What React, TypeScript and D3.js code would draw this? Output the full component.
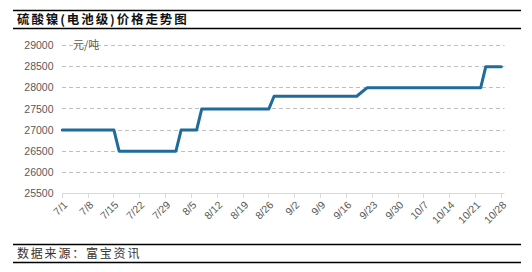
import React from "react";
import * as d3 from "d3";

const TITLE = "硫酸镍(电池级)价格走势图";
const UNIT = "元/吨";
const SOURCE = "数据来源：富宝资讯";

const dates: string[] = [
  "7/1", "7/2", "7/3", "7/4", "7/5",
  "7/8", "7/9", "7/10", "7/11", "7/12",
  "7/15", "7/16", "7/17", "7/18", "7/19",
  "7/22", "7/23", "7/24", "7/25", "7/26",
  "7/29", "7/30", "7/31", "8/1", "8/2",
  "8/5", "8/6", "8/7", "8/8", "8/9",
  "8/12", "8/13", "8/14", "8/15", "8/16",
  "8/19", "8/20", "8/21", "8/22", "8/23",
  "8/26", "8/27", "8/28", "8/29", "8/30",
  "9/2", "9/3", "9/4", "9/5", "9/6",
  "9/9", "9/10", "9/11", "9/12", "9/13",
  "9/16", "9/17", "9/18", "9/19", "9/20",
  "9/23", "9/24", "9/25", "9/26", "9/27",
  "9/30", "10/1", "10/2", "10/3", "10/4",
  "10/7", "10/8", "10/9", "10/10", "10/11",
  "10/14", "10/15", "10/16", "10/17", "10/18",
  "10/21", "10/22", "10/23", "10/24", "10/25",
  "10/28",
];

const prices: number[] = [
  27000, 27000, 27000, 27000, 27000,
  27000, 27000, 27000, 27000, 27000,
  27000, 26500, 26500, 26500, 26500,
  26500, 26500, 26500, 26500, 26500,
  26500, 26500, 26500, 27000, 27000,
  27000, 27000, 27500, 27500, 27500,
  27500, 27500, 27500, 27500, 27500,
  27500, 27500, 27500, 27500, 27500,
  27500, 27800, 27800, 27800, 27800,
  27800, 27800, 27800, 27800, 27800,
  27800, 27800, 27800, 27800, 27800,
  27800, 27800, 27800, 27900, 28000,
  28000, 28000, 28000, 28000, 28000,
  28000, 28000, 28000, 28000, 28000,
  28000, 28000, 28000, 28000, 28000,
  28000, 28000, 28000, 28000, 28000,
  28000, 28000, 28500, 28500, 28500,
  28500,
];

const tickLabels: string[] = [
  "7/1", "7/8", "7/15", "7/22", "7/29", "8/5", "8/12", "8/19", "8/26",
  "9/2", "9/9", "9/16", "9/23", "9/30", "10/7", "10/14", "10/21", "10/28",
];

const yTicks: number[] = [25500, 26000, 26500, 27000, 27500, 28000, 28500, 29000];

const W = 532;
const H = 272;
const textColor = "#595959";
const lineColor = "#1F6C9C";

export default function App() {
  const x = d3.scalePoint<string>().domain(dates).range([62.3, 501.3]);
  const y = d3.scaleLinear().domain([25500, 29000]).range([193.5, 45.5]);
  const line = d3
    .line<number>()
    .x((_, i) => x(dates[i]) as number)
    .y((d) => y(d));
  const crisp = (v: number) => Math.round(v - 0.5) + 0.5;
  const gridRight = 504.5;

  return (
    <svg
      width={W}
      height={H}
      style={{ position: "absolute", left: 0, top: 0, background: "#fff" }}
      fontFamily="'Liberation Sans', Arial, sans-serif"
    >
      <rect x={0} y={0} width={W} height={H} fill="#fff" />
      {/* header */}
      <line x1={13} x2={521} y1={10.5} y2={10.5} stroke="#000" strokeWidth={1.3} />
      <text
        x={17}
        y={24}
        fontSize={12.5}
        fontWeight="bold"
        letterSpacing={1.9}
        fill="#111"
        fontFamily="'Noto Sans CJK SC', sans-serif"
      >
        {TITLE}
      </text>
      <line x1={13} x2={521} y1={28.5} y2={28.5} stroke="#000" strokeWidth={1.3} />

      {/* grid */}
      {yTicks
        .filter((t) => t !== 25500)
        .map((t) => (
          <line
            key={"g" + t}
            x1={62}
            x2={gridRight}
            y1={crisp(y(t))}
            y2={crisp(y(t))}
            stroke="#BFBFBF"
            strokeWidth={1}
            strokeDasharray="4,3"
          />
        ))}
      {yTicks.map((t) => (
        <text
          key={"yl" + t}
          x={53.5}
          y={y(t)}
          dy="0.35em"
          textAnchor="end"
          fontSize={10.5}
          fill={textColor}
        >
          {t}
        </text>
      ))}
      <text
        x={73}
        y={45.5}
        dy="0.35em"
        fontSize={11}
        fill={textColor}
        fontFamily="'Noto Sans CJK SC', sans-serif"
      >
        {UNIT}
      </text>

      {/* x axis */}
      <line x1={62} x2={gridRight} y1={193.5} y2={193.5} stroke="#D9D9D9" strokeWidth={1} />
      {tickLabels.map((d) => {
        const tx = crisp(x(d) as number);
        return (
          <g key={"xt" + d}>
            <line x1={tx} x2={tx} y1={193.5} y2={198} stroke="#D9D9D9" strokeWidth={1} />
            <text
              transform={`translate(${tx + 3},${203}) rotate(-45)`}
              textAnchor="end"
              dy="0.35em"
              fontSize={10.5}
              fill={textColor}
            >
              {d}
            </text>
          </g>
        );
      })}

      {/* series */}
      <path
        d={line(prices) || ""}
        fill="none"
        stroke={lineColor}
        strokeWidth={3}
        strokeLinejoin="round"
        strokeLinecap="round"
      />

      {/* footer */}
      <line x1={13} x2={521} y1={244.5} y2={244.5} stroke="#000" strokeWidth={1.3} />
      <text
        x={17}
        y={258}
        fontSize={12}
        letterSpacing={1.8}
        fill="#333"
        fontFamily="'Noto Sans CJK SC', sans-serif"
      >
        {SOURCE}
      </text>
      <line x1={13} x2={521} y1={262.5} y2={262.5} stroke="#000" strokeWidth={1.3} />
    </svg>
  );
}
